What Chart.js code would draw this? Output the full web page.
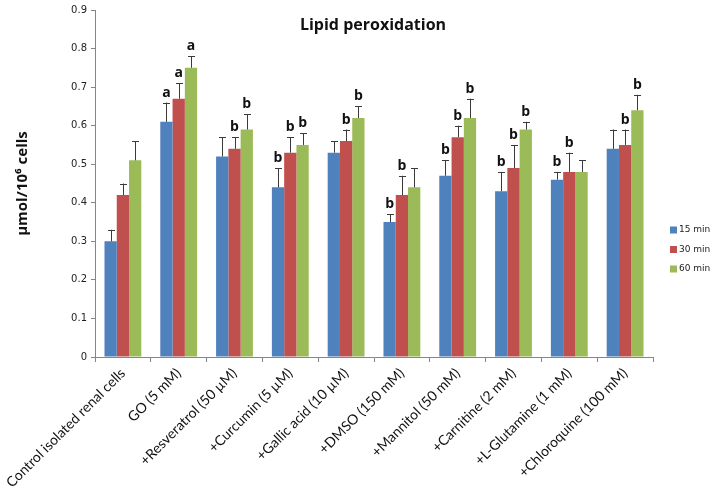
<!DOCTYPE html>
<html lang="en">
<head>
    <meta charset="UTF-8">
    <title>Lipid peroxidation</title>
    <script src="https://cdn.jsdelivr.net/npm/chart.js"></script>
    <style>
        body { margin: 0; background: #fff; }
    </style>
</head>
<body>
    <canvas id="myChart" width="711" height="497"></canvas>

    <script>
        const categories = ['Control isolated renal cells', 'GO (5 mM)', '+Resveratrol (50 µM)', '+Curcumin (5 µM)',
            '+Gallic acid (10 µM)', '+DMSO (150 mM)', '+Mannitol (50 mM)', '+Carnitine (2 mM)',
            '+L-Glutamine (1 mM)', '+Chloroquine (100 mM)'];
        const seriesNames = ['15 min', '30 min', '60 min'];

        const min15 = [0.30, 0.61, 0.52, 0.44, 0.53, 0.35, 0.47, 0.43, 0.46, 0.54];
        const min30 = [0.42, 0.67, 0.54, 0.53, 0.56, 0.42, 0.57, 0.49, 0.48, 0.55];
        const min60 = [0.51, 0.75, 0.59, 0.55, 0.62, 0.44, 0.62, 0.59, 0.48, 0.64];

        // top of the error bar (mean + SD)
        const err15 = [0.33, 0.66, 0.57, 0.49, 0.56, 0.37, 0.51, 0.48, 0.48, 0.59];
        const err30 = [0.45, 0.71, 0.57, 0.57, 0.59, 0.47, 0.60, 0.55, 0.53, 0.59];
        const err60 = [0.56, 0.78, 0.63, 0.58, 0.65, 0.49, 0.67, 0.61, 0.51, 0.68];

        const sig15 = ['', 'a', '', 'b', '', 'b', 'b', 'b', 'b', ''];
        const sig30 = ['', 'a', 'b', 'b', 'b', 'b', 'b', 'b', 'b', 'b'];
        const sig60 = ['', 'a', 'b', 'b', 'b', '', 'b', 'b', '', 'b'];

        const yTicks = [0, 0.1, 0.2, 0.3, 0.4, 0.5, 0.6, 0.7, 0.8, 0.9];
        const colors = ['#4f81bd', '#c0504d', '#9bbb59'];

        const errTops = [err15, err30, err60];
        const sigLabels = [sig15, sig30, sig60];

        // error bars + letters above them
        const errorBars = {
            id: 'errorBars',
            afterDatasetsDraw(chart) {
                const ctx = chart.ctx;
                const y = chart.scales.y;
                ctx.save();
                chart.data.datasets.forEach((ds, d) => {
                    const meta = chart.getDatasetMeta(d);
                    meta.data.forEach((bar, i) => {
                        const top = y.getPixelForValue(errTops[d][i]);
                        ctx.strokeStyle = '#3a3a3a';
                        ctx.lineWidth = 1;
                        ctx.beginPath();
                        ctx.moveTo(Math.round(bar.x) + 0.5, bar.y);
                        ctx.lineTo(Math.round(bar.x) + 0.5, top);
                        ctx.moveTo(Math.round(bar.x) - 3, Math.round(top) + 0.5);
                        ctx.lineTo(Math.round(bar.x) + 4, Math.round(top) + 0.5);
                        ctx.stroke();
                        const s = sigLabels[d][i];
                        if (s) {
                            ctx.fillStyle = '#111';
                            ctx.font = 'bold 14px "Open Sans"';
                            ctx.textAlign = 'center';
                            ctx.textBaseline = 'alphabetic';
                            ctx.fillText(s, bar.x, top - 6);
                        }
                    });
                });
                ctx.restore();
            },
            afterDraw(chart) {
                const ctx = chart.ctx;
                ctx.save();
                // title sits inside the plot area
                ctx.fillStyle = '#111';
                ctx.font = 'bold 16px "Open Sans"';
                ctx.textAlign = 'center';
                ctx.textBaseline = 'middle';
                ctx.fillText('Lipid peroxidation', 373, 25);
                // legend
                ctx.font = '9px "DejaVu Sans"';
                ctx.textAlign = 'left';
                seriesNames.forEach((name, k) => {
                    const ly = 230 + k * 19.5;
                    ctx.fillStyle = colors[k];
                    ctx.fillRect(670, ly - 3.5, 7, 7);
                    ctx.fillStyle = '#222';
                    ctx.fillText(name, 679, ly);
                });
                ctx.restore();
            }
        };

        const ctx = document.getElementById('myChart').getContext('2d');

        new Chart(ctx, {
            type: 'bar',
            data: {
                labels: categories,
                datasets: [
                    { label: seriesNames[0], data: min15, backgroundColor: colors[0] },
                    { label: seriesNames[1], data: min30, backgroundColor: colors[1] },
                    { label: seriesNames[2], data: min60, backgroundColor: colors[2] }
                ]
            },
            options: {
                responsive: false,
                animation: false,
                devicePixelRatio: 1,
                categoryPercentage: 0.66,
                barPercentage: 1.0,
                layout: { padding: { top: 5, right: 58, left: 0, bottom: 0 } },
                plugins: {
                    legend: { display: false },
                    tooltip: { enabled: false }
                },
                scales: {
                    x: {
                        afterFit(scale) { scale.height = 140; },
                        grid: { drawOnChartArea: false, tickLength: 5, color: '#868686' },
                        border: { color: '#868686' },
                        ticks: {
                            minRotation: 45,
                            maxRotation: 45,
                            autoSkip: false,
                            color: '#111',
                            font: { family: 'Lato', size: 14 }
                        }
                    },
                    y: {
                        min: 0,
                        max: 0.9,
                        afterFit(scale) { scale.width = 95; },
                        afterBuildTicks(scale) { scale.ticks = yTicks.map(v => ({ value: v })); },
                        grid: { drawOnChartArea: false, tickLength: 4, color: '#868686' },
                        border: { color: '#868686' },
                        ticks: {
                            color: '#222',
                            padding: 4,
                            font: { family: 'DejaVu Sans', size: 10 },
                            callback: v => String(Math.round(v * 10) / 10)
                        },
                        title: {
                            display: true,
                            text: 'µmol/10⁶ cells',
                            color: '#111',
                            font: { family: 'Open Sans', size: 15, weight: 'bold' },
                            padding: { top: 14 }
                        }
                    }
                }
            },
            plugins: [errorBars]
        });
    </script>
</body>
</html>
